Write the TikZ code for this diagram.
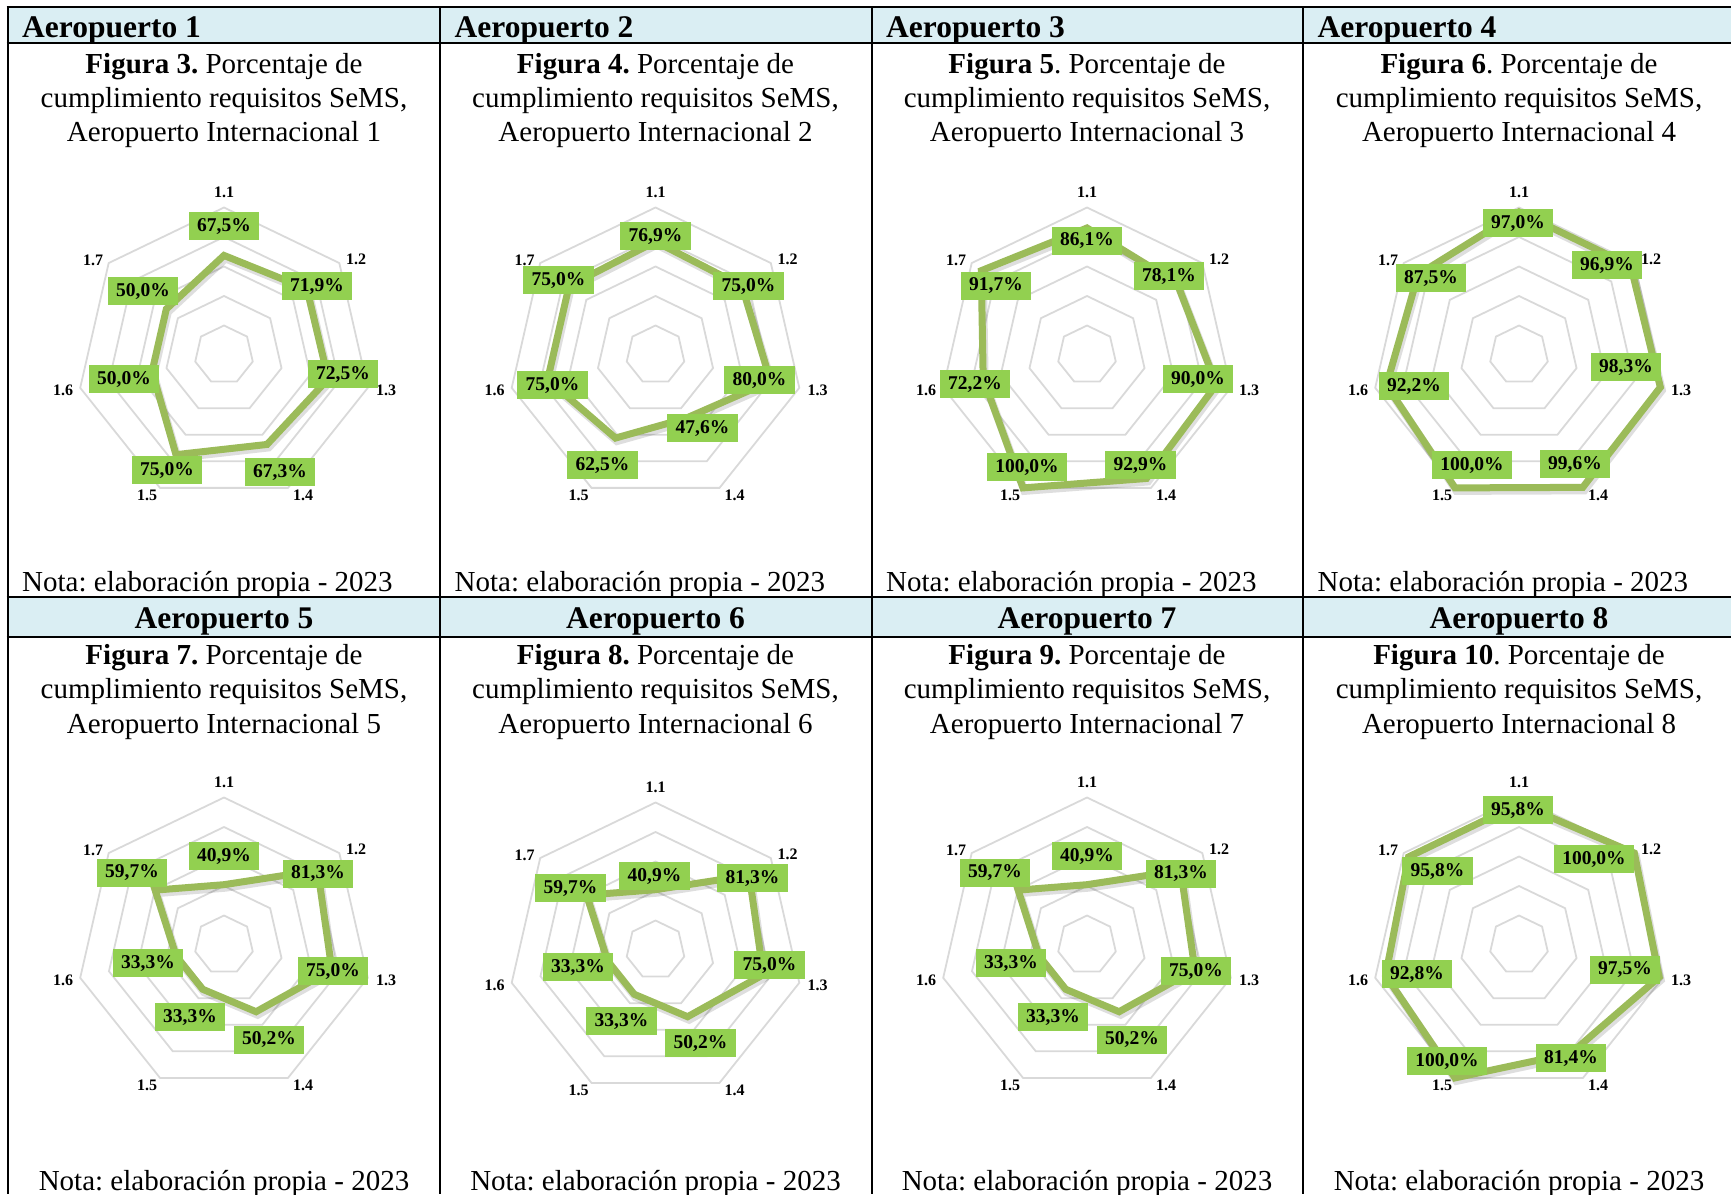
\documentclass[tikz,border=0pt]{standalone}
\usepackage{fontspec}
\setmainfont{Liberation Serif}
\frenchspacing
\usetikzlibrary{calc}
\definecolor{hdrblue}{HTML}{DAEEF3}
\definecolor{gridgray}{HTML}{D9D9D9}
\definecolor{lineolive}{HTML}{9BBB59}
\definecolor{labgreen}{HTML}{92D050}
\tikzset{
  gridline/.style={draw=gridgray, line width=1.8pt},
  dataline/.style={draw=lineolive, line width=7pt},
  shadowline/.style={draw=black, opacity=0.13, line width=8pt},
  vallab/.style={fill=labgreen, inner xsep=8.5pt, inner ysep=0pt, minimum height=28pt,
    text height=13.5pt, text depth=3.5pt, font=\fontsize{19.5}{22}\selectfont\bfseries},
  catlab/.style={inner sep=0pt, font=\fontsize{16}{18}\selectfont\bfseries},
  hdr/.style={inner sep=0pt, font=\fontsize{31.5}{36}\selectfont\bfseries},
  captxt/.style={inner sep=0pt, font=\fontsize{29}{34}\selectfont},
  tabline/.style={draw=black, line width=2pt},
}
\newcommand\radarplot[3]{%
\begin{scope}[shift={(#2)}]
  \foreach \lev in {1,...,5}{
    \draw[gridline] (-90:\lev*29.5) \foreach \kk in {1,...,6}{ -- (-90+\kk*360/7:\lev*29.5)} -- cycle;
  }
  \foreach \val/\ddx/\ddy/\lbl [count=\kk from 0] in {#3}{
    \coordinate (#1p\kk) at (-90+\kk*360/7:\val*1.475);
  }
  \draw[shadowline] ($(#1p0)+(1.5,3)$) -- ($(#1p1)+(1.5,3)$) -- ($(#1p2)+(1.5,3)$) -- ($(#1p3)+(1.5,3)$) -- ($(#1p4)+(1.5,3)$) -- ($(#1p5)+(1.5,3)$) -- ($(#1p6)+(1.5,3)$) -- cycle;
  \draw[dataline] (#1p0) -- (#1p1) -- (#1p2) -- (#1p3) -- (#1p4) -- (#1p5) -- (#1p6) -- cycle;
  \foreach \ddx/\ddy [count=\kk from 1] in {0/-163,132/-96,162/35,79/140,-77/140,-161/35,-131/-95}{
    \node[catlab] (#1c\kk) at (\ddx,\ddy) {1.\kk};
  }
  \foreach \val/\ddx/\ddy/\lbl [count=\kk from 0] in {#3}{
    \node[vallab] (#1v\kk) at (\ddx,\ddy) {\lbl};
  }
\end{scope}}
\begin{document}
\begin{tikzpicture}[x=1pt,y=-1pt]
\useasboundingbox (0,0) rectangle (1731,1194);
% header bands
\fill[hdrblue] (7.5,7) rectangle (1731,43);
\fill[hdrblue] (7.5,597) rectangle (1731,637);
% table lines
\draw[draw=black, line width=1.6pt] (6.5,7) -- (1731,7);
\draw[tabline] (6.5,43) -- (1731,43);
\draw[tabline] (6.5,597) -- (1731,597);
\draw[tabline] (6.5,637) -- (1731,637);
\foreach \xx [count=\ii] in {7.5,440,871.5,1303}{
  \draw[tabline] (\xx,6.2) -- (\xx,1194);
}
% row 1 texts
\foreach \ll/\cc/\fig/\num [count=\ii] in {7.5/224/{\textbf{Figura 3.}}/1, 440/655.5/{\textbf{Figura 4.}}/2, 871.5/1087/{\textbf{Figura 5}.}/3, 1303/1519/{\textbf{Figura 6}.}/4}{
  \node[hdr, anchor=base west] (h\ii) at (\ll+14.5,37.5) {Aeropuerto \num};
  \node[captxt, anchor=base] (f\ii a) at (\cc,73) {\fig{} Porcentaje de};
  \node[captxt, anchor=base] (f\ii b) at (\cc,107) {cumplimiento requisitos SeMS,};
  \node[captxt, anchor=base] (f\ii c) at (\cc,141) {Aeropuerto Internacional \num};
  \node[captxt, anchor=base west] (n\ii) at (\ll+14.5,591) {Nota: elaboración propia - 2023};
}
% row 2 texts
\foreach \cc/\fig/\num [count=\ii from 5] in {224/{\textbf{Figura 7.}}/5, 655.5/{\textbf{Figura 8.}}/6, 1087/{\textbf{Figura 9.}}/7, 1519/{\textbf{Figura 10}.}/8}{
  \node[hdr, anchor=base] (h\ii) at (\cc,628) {Aeropuerto \num};
  \node[captxt, anchor=base] (f\ii a) at (\cc,664) {\fig{} Porcentaje de};
  \node[captxt, anchor=base] (f\ii b) at (\cc,698.5) {cumplimiento requisitos SeMS,};
  \node[captxt, anchor=base] (f\ii c) at (\cc,733) {Aeropuerto Internacional \num};
  \node[captxt, anchor=base] (n\ii) at (\cc,1190) {Nota: elaboración propia - 2023};
}
% charts
\radarplot{ra}{224,355}{67.5/0/-129/{67,5\%}, 71.9/93/-69/{71,9\%}, 72.5/119/19/{72,5\%}, 67.3/56/117/{67,3\%}, 75.0/-57/115/{75,0\%}, 50.0/-100/24/{50,0\%}, 50.0/-81/-64/{50,0\%}}
\radarplot{rb}{655.5,355}{76.9/0/-119/{76,9\%}, 75.0/93/-69/{75,0\%}, 80.0/104/25/{80,0\%}, 47.6/47/73/{47,6\%}, 62.5/-53/110/{62,5\%}, 75.0/-103/30/{75,0\%}, 75.0/-97/-75/{75,0\%}}
\radarplot{rc}{1087,355}{86.1/0/-114.5/{86,1\%}, 78.1/82/-79/{78,1\%}, 90.0/111/24/{90,0\%}, 92.9/53.5/110/{92,9\%}, 100/-60/112/{100,0\%}, 72.2/-112/29/{72,2\%}, 91.7/-91/-69.5/{91,7\%}}
\radarplot{rd}{1519,355}{97.0/-1/-132/{97,0\%}, 96.9/88/-90/{96,9\%}, 98.3/107/12/{98,3\%}, 99.6/56/109/{99,6\%}, 100/-47/110/{100,0\%}, 92.2/-105/31/{92,2\%}, 87.5/-88/-77/{87,5\%}}
\radarplot{re}{224,945}{40.9/0/-89/{40,9\%}, 81.3/94/-71.5/{81,3\%}, 75.0/109/26/{75,0\%}, 50.2/45/94.5/{50,2\%}, 33.3/-34/72/{33,3\%}, 33.3/-76/18/{33,3\%}, 59.7/-92/-72.5/{59,7\%}}
\radarplot{rf}{655.5,950}{40.9/-1/-74/{40,9\%}, 81.3/97/-72/{81,3\%}, 75.0/114/15/{75,0\%}, 50.2/45/93/{50,2\%}, 33.3/-34/71/{33,3\%}, 33.3/-77.5/17/{33,3\%}, 59.7/-85/-62/{59,7\%}}
\radarplot{rg}{1087,945}{40.9/0/-89/{40,9\%}, 81.3/94/-71.5/{81,3\%}, 75.0/109/26/{75,0\%}, 50.2/45/94.5/{50,2\%}, 33.3/-34/72/{33,3\%}, 33.3/-76/18/{33,3\%}, 59.7/-92/-72.5/{59,7\%}}
\radarplot{rh}{1519,945}{95.8/-1/-135/{95,8\%}, 100/75/-86/{100,0\%}, 97.5/106/24.5/{97,5\%}, 81.4/52/113/{81,4\%}, 100/-72/116/{100,0\%}, 92.8/-102/29/{92,8\%}, 95.8/-81.5/-74/{95,8\%}}
\end{tikzpicture}
\end{document}
